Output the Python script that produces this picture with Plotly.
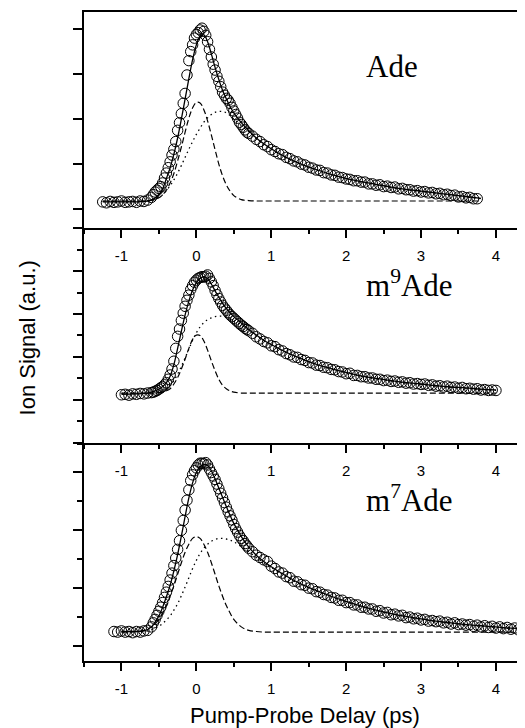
import plotly.graph_objects as go

# ---------------- delay grids (ps) ----------------
baseline_delays = [-1.25, -1.2, -1.15, -1.1, -1.05, -1.0, -0.95, -0.9, -0.85, -0.8, -0.75, -0.7, -0.65]
rise_delays = [-0.6, -0.575, -0.55, -0.525, -0.5, -0.475, -0.45, -0.425, -0.4, -0.375, -0.35, -0.325, -0.3,
               -0.275, -0.25, -0.225, -0.2, -0.175, -0.15, -0.125, -0.1, -0.075, -0.05, -0.025, 0.0,
               0.025, 0.05, 0.075, 0.1, 0.125, 0.15, 0.175, 0.2, 0.225, 0.25, 0.275, 0.3,
               0.325, 0.35, 0.375, 0.4, 0.425, 0.45, 0.475, 0.5, 0.525, 0.55, 0.575, 0.6,
               0.625, 0.65, 0.675, 0.7]
tail_delays = [0.75, 0.8, 0.85, 0.9, 0.95, 1.0, 1.05, 1.1, 1.15, 1.2,
               1.25, 1.3, 1.35, 1.4, 1.45, 1.5, 1.55, 1.6, 1.65, 1.7,
               1.75, 1.8, 1.85, 1.9, 1.95, 2.0, 2.05, 2.1, 2.15, 2.2,
               2.25, 2.3, 2.35, 2.4, 2.45, 2.5, 2.55, 2.6, 2.65, 2.7,
               2.75, 2.8, 2.85, 2.9, 2.95, 3.0, 3.05, 3.1, 3.15, 3.2,
               3.25, 3.3, 3.35, 3.4, 3.45, 3.5, 3.55, 3.6, 3.65, 3.7,
               3.75, 3.8, 3.85, 3.9, 3.95, 4.0, 4.05, 4.1, 4.15, 4.2,
               4.25, 4.3, 4.35, 4.4, 4.45, 4.5]
fit_delays = [-1.25, -1.0, -0.8, -0.7, -0.6, -0.5, -0.45, -0.4, -0.35, -0.3, -0.25, -0.2, -0.15, -0.1, -0.05,
              0.0, 0.05, 0.1, 0.15, 0.2, 0.25, 0.3, 0.35, 0.4, 0.45, 0.5, 0.6, 0.7, 0.8, 0.9, 1.0,
              1.2, 1.4, 1.6, 1.8, 2.0, 2.2, 2.4, 2.6, 2.8, 3.0, 3.2, 3.4, 3.6, 3.8, 4.0, 4.2, 4.4, 4.5]

# ---------------- Ade ----------------
ade_delay = baseline_delays + rise_delays + tail_delays[:61]
ade_signal = ([0.16, 0.14, 0.17, 0.15, 0.16, 0.18, 0.15, 0.16, 0.17, 0.15, 0.18, 0.17, 0.2]
              + [0.26, 0.32, 0.38, 0.42, 0.46, 0.5, 0.58, 0.69, 0.8, 0.92, 1.05, 1.2, 1.33,
                 1.5, 1.75, 1.92, 2.12, 2.35, 2.57, 2.98, 3.3, 3.5, 3.65, 3.8, 3.88,
                 3.92, 3.98, 4.02, 3.95, 3.86, 3.72, 3.55, 3.38, 3.22, 3.09, 2.95, 2.84,
                 2.72, 2.6, 2.53, 2.46, 2.42, 2.35, 2.26, 2.18, 2.1, 2.02, 1.93, 1.88,
                 1.82, 1.76, 1.71, 1.68]
              + [1.62, 1.55, 1.5, 1.43, 1.39, 1.32, 1.28, 1.23, 1.21, 1.15,
                 1.12, 1.07, 1.05, 1.0, 0.98, 0.93, 0.91, 0.87, 0.86, 0.81,
                 0.8, 0.76, 0.75, 0.71, 0.7, 0.67, 0.66, 0.63, 0.63, 0.6,
                 0.6, 0.56, 0.56, 0.53, 0.54, 0.5, 0.51, 0.48, 0.49, 0.45,
                 0.46, 0.43, 0.43, 0.4, 0.41, 0.38, 0.39, 0.36, 0.37, 0.34,
                 0.35, 0.32, 0.33, 0.3, 0.31, 0.27, 0.28, 0.25, 0.26, 0.23,
                 0.23])
ade_fit_delay = fit_delays[:45]
ade_fit = [0.16, 0.16, 0.16, 0.17, 0.2,
           0.32, 0.45, 0.68, 0.92, 1.22, 1.58, 2.0, 2.45, 2.9, 3.32,
           3.65, 3.84, 3.87, 3.72, 3.45, 3.15, 2.88, 2.64, 2.45, 2.28,
           2.14, 1.92, 1.74, 1.58, 1.45, 1.34, 1.15, 1.0, 0.88, 0.77,
           0.68, 0.61, 0.55, 0.49, 0.44, 0.4, 0.36, 0.32, 0.28, 0.24]
ade_fast = [0.18, 0.18, 0.18, 0.18, 0.2,
            0.25, 0.32, 0.42, 0.58, 0.79, 1.07, 1.38, 1.71, 2.02, 2.25,
            2.37, 2.36, 2.21, 1.96, 1.65, 1.32, 1.0, 0.74, 0.54, 0.4,
            0.3, 0.21, 0.19, 0.18, 0.18, 0.18, 0.18, 0.18, 0.18, 0.18,
            0.18, 0.18, 0.18, 0.18, 0.18, 0.18, 0.18, 0.18, 0.18, 0.18]
ade_slow = [0.17, 0.17, 0.17, 0.17, 0.19,
            0.26, 0.32, 0.41, 0.52, 0.65, 0.8, 0.97, 1.15, 1.33, 1.5,
            1.66, 1.8, 1.93, 2.03, 2.1, 2.15, 2.17, 2.17, 2.14, 2.08,
            2.0, 1.86, 1.72, 1.57, 1.44, 1.33, 1.14, 0.99, 0.87, 0.76,
            0.67, 0.6, 0.54, 0.48, 0.43, 0.39, 0.35, 0.31, 0.27, 0.23]

# ---------------- m9Ade ----------------
m9_delay = baseline_delays[5:] + rise_delays + tail_delays[:66]
m9_signal = ([0.12, 0.13, 0.11, 0.14, 0.13, 0.15, 0.14, 0.16]
             + [0.17, 0.18, 0.2, 0.22, 0.25, 0.28, 0.31, 0.35, 0.4, 0.48, 0.58, 0.72, 0.9,
                1.2, 1.48, 1.65, 1.85, 2.02, 2.18, 2.32, 2.44, 2.57, 2.66, 2.74, 2.79,
                2.83, 2.85, 2.87, 2.86, 2.88, 2.91, 2.83, 2.75, 2.66, 2.55, 2.45, 2.36,
                2.28, 2.2, 2.14, 2.09, 2.03, 1.98, 1.94, 1.9, 1.86, 1.82, 1.78, 1.74,
                1.71, 1.67, 1.64, 1.61]
             + [1.55, 1.47, 1.42, 1.36, 1.33, 1.26, 1.24, 1.17, 1.14, 1.08,
                1.05, 1.0, 0.99, 0.94, 0.92, 0.87, 0.86, 0.81, 0.8, 0.76,
                0.75, 0.71, 0.7, 0.66, 0.65, 0.61, 0.62, 0.57, 0.57, 0.54,
                0.54, 0.51, 0.51, 0.48, 0.48, 0.45, 0.46, 0.43, 0.44, 0.41,
                0.42, 0.39, 0.4, 0.37, 0.38, 0.36, 0.37, 0.34, 0.35, 0.32,
                0.33, 0.3, 0.32, 0.29, 0.3, 0.27, 0.29, 0.26, 0.27, 0.25,
                0.26, 0.23, 0.24, 0.22, 0.23, 0.22])
m9_fit_delay = fit_delays[1:46]
m9_fit = [0.13, 0.14, 0.15, 0.18,
          0.25, 0.31, 0.4, 0.55, 0.82, 1.2, 1.6, 1.98, 2.3, 2.56,
          2.73, 2.83, 2.87, 2.82, 2.7, 2.54, 2.39, 2.25, 2.13, 2.03,
          1.94, 1.79, 1.64, 1.51, 1.39, 1.29, 1.11, 0.96, 0.83, 0.73,
          0.64, 0.56, 0.5, 0.45, 0.4, 0.37, 0.33, 0.3, 0.28, 0.25, 0.23]
m9_fast = [0.16, 0.16, 0.16, 0.16,
           0.17, 0.18, 0.21, 0.26, 0.37, 0.52, 0.72, 0.95, 1.2, 1.41,
           1.51, 1.5, 1.37, 1.16, 0.91, 0.68, 0.48, 0.34, 0.26, 0.21,
           0.18, 0.16, 0.16, 0.16, 0.16, 0.16, 0.16, 0.16, 0.16, 0.16,
           0.16, 0.16, 0.16, 0.16, 0.16, 0.16, 0.16, 0.16, 0.16, 0.16, 0.16]
m9_slow = [0.15, 0.15, 0.15, 0.15,
           0.19, 0.22, 0.26, 0.34, 0.45, 0.6, 0.78, 0.98, 1.18, 1.39,
           1.56, 1.7, 1.8, 1.87, 1.91, 1.94, 1.95, 1.95, 1.93, 1.89,
           1.84, 1.75, 1.62, 1.5, 1.38, 1.28, 1.1, 0.95, 0.82, 0.72,
           0.63, 0.55, 0.49, 0.44, 0.39, 0.36, 0.32, 0.29, 0.27, 0.24, 0.22]

# ---------------- m7Ade ----------------
m7_delay = baseline_delays[3:] + rise_delays + tail_delays
m7_signal = ([0.25, 0.24, 0.26, 0.24, 0.25, 0.23, 0.25, 0.24, 0.26, 0.27]
             + [0.33, 0.4, 0.46, 0.53, 0.6, 0.67, 0.75, 0.84, 0.93, 1.03, 1.14, 1.26, 1.39,
                1.52, 1.67, 1.82, 2.0, 2.17, 2.35, 2.52, 2.7, 2.86, 2.96, 3.03, 3.08,
                3.13, 3.16, 3.16, 3.15, 3.17, 3.13, 3.06, 3.0, 2.94, 2.88, 2.8, 2.72,
                2.64, 2.56, 2.48, 2.4, 2.32, 2.25, 2.18, 2.1, 2.03, 1.97, 1.91, 1.86,
                1.82, 1.77, 1.73, 1.69]
             + [1.63, 1.57, 1.53, 1.49, 1.46, 1.38, 1.34, 1.28, 1.26, 1.2,
                1.18, 1.12, 1.11, 1.06, 1.05, 1.0, 0.99, 0.94, 0.93, 0.89,
                0.88, 0.84, 0.83, 0.79, 0.79, 0.75, 0.75, 0.71, 0.71, 0.67,
                0.67, 0.64, 0.64, 0.6, 0.61, 0.57, 0.58, 0.54, 0.55, 0.52,
                0.53, 0.49, 0.5, 0.47, 0.48, 0.45, 0.46, 0.43, 0.44, 0.42,
                0.43, 0.4, 0.41, 0.38, 0.4, 0.37, 0.38, 0.36, 0.37, 0.34,
                0.36, 0.33, 0.35, 0.32, 0.34, 0.31, 0.33, 0.3, 0.32, 0.29,
                0.31, 0.28, 0.3, 0.28, 0.29, 0.27])
m7_fit_delay = fit_delays[1:]
m7_fit = [0.25, 0.25, 0.26, 0.33,
          0.52, 0.67, 0.85, 1.05, 1.3, 1.58, 1.9, 2.24, 2.56, 2.82,
          3.0, 3.1, 3.14, 3.12, 3.03, 2.89, 2.73, 2.57, 2.41, 2.26,
          2.12, 1.89, 1.71, 1.57, 1.46, 1.37, 1.21, 1.07, 0.96, 0.86,
          0.77, 0.69, 0.62, 0.56, 0.51, 0.47, 0.43, 0.4, 0.37, 0.35, 0.33, 0.31, 0.3, 0.29]
m7_fast = [0.24, 0.25, 0.27, 0.33,
           0.46, 0.57, 0.7, 0.86, 1.04, 1.24, 1.44, 1.62, 1.76, 1.86,
           1.89, 1.86, 1.76, 1.62, 1.44, 1.24, 1.04, 0.86, 0.7, 0.57,
           0.46, 0.33, 0.27, 0.25, 0.24, 0.24, 0.24, 0.24, 0.24, 0.24,
           0.24, 0.24, 0.24, 0.24, 0.24, 0.24, 0.24, 0.24, 0.24, 0.24, 0.24, 0.24, 0.24, 0.24]
m7_slow = [0.25, 0.25, 0.25, 0.28,
           0.34, 0.39, 0.45, 0.52, 0.62, 0.73, 0.87, 1.02, 1.18, 1.34,
           1.48, 1.6, 1.69, 1.76, 1.81, 1.84, 1.86, 1.86, 1.85, 1.83,
           1.8, 1.72, 1.63, 1.53, 1.44, 1.36, 1.2, 1.06, 0.95, 0.85,
           0.76, 0.68, 0.61, 0.55, 0.5, 0.46, 0.42, 0.39, 0.36, 0.34, 0.32, 0.3, 0.29, 0.28]

panel_labels = ["Ade", "m<sup>9</sup>Ade", "m<sup>7</sup>Ade"]
x_tick_vals = [-1, 0, 1, 2, 3, 4]
x_tick_text = ["-1", "0", "1", "2", "3", "4"]
x_tick_text_mid = ["-1", " ", "1", "2", "3", "4"]

panels = [
    (ade_delay, ade_signal, ade_fit_delay, ade_fit, ade_fast, ade_slow),
    (m9_delay, m9_signal, m9_fit_delay, m9_fit, m9_fast, m9_slow),
    (m7_delay, m7_signal, m7_fit_delay, m7_fit, m7_fast, m7_slow),
]
for p in panels:
    assert len(p[0]) == len(p[1]), (len(p[0]), len(p[1]))
    assert len(p[2]) == len(p[3]) == len(p[4]) == len(p[5]), (len(p[2]), len(p[3]), len(p[4]), len(p[5]))

fig = go.Figure()
axis_ids = [("x", "y"), ("x2", "y2"), ("x3", "y3")]
for (xd, ys, xf, yfit, yfast, yslow), (xa, ya) in zip(panels, axis_ids):
    fig.add_trace(go.Scatter(x=xd, y=ys, mode="markers", xaxis=xa, yaxis=ya,
                             marker=dict(symbol="circle-open", size=10.5, color="black",
                                         line=dict(width=1, color="black"))))
    fig.add_trace(go.Scatter(x=xf, y=yslow, mode="lines", xaxis=xa, yaxis=ya, line_shape="spline",
                             line=dict(color="black", width=1.3, dash="1.5px,3.5px")))
    fig.add_trace(go.Scatter(x=xf, y=yfast, mode="lines", xaxis=xa, yaxis=ya, line_shape="spline",
                             line=dict(color="black", width=1.2, dash="6px,3px")))
    fig.add_trace(go.Scatter(x=xf, y=yfit, mode="lines", xaxis=xa, yaxis=ya, line_shape="spline",
                             line=dict(color="black", width=1.3)))

tick_font = dict(family="Liberation Sans, Arial, sans-serif", size=15, color="black")
common_x = dict(range=[-1.5, 4.388], showline=True, linewidth=2, linecolor="black",
                ticks="outside", ticklen=8, tickwidth=1.5, tickcolor="black",
                tickmode="array", tickvals=x_tick_vals,
                minor=dict(tickmode="array", tickvals=[-1.5, -0.5, 0.5, 1.5, 2.5, 3.5],
                           ticks="outside", ticklen=4, tickwidth=1.5, tickcolor="black"),
                showgrid=False, zeroline=False, tickfont=tick_font, ticklabelstandoff=5)
common_y = dict(showline=True, linewidth=2, linecolor="black", ticks="outside", ticklen=9,
                tickwidth=1.5, tickcolor="black", showticklabels=False, showgrid=False,
                zeroline=False, dtick=1, tick0=0)

# The page body has an 8px default margin, so the figure is sized 8px smaller
fig.update_layout(
    width=517, height=720,
    margin=dict(l=76, r=0, t=4, b=67),
    paper_bgcolor="white", plot_bgcolor="white", showlegend=False,
    xaxis=dict(common_x, anchor="y", mirror=True, ticktext=x_tick_text),
    xaxis2=dict(common_x, anchor="y2", ticktext=x_tick_text_mid),
    xaxis3=dict(common_x, anchor="y3", ticktext=x_tick_text),
    yaxis=dict(common_y, domain=[0.6672, 1.0], range=[-0.42, 4.38], anchor="x"),
    yaxis2=dict(common_y, domain=[0.3359, 0.6672], range=[-1.004, 4.004], anchor="x2",
                minor=dict(dtick=0.5, ticks="outside", ticklen=5, tickwidth=1.5, tickcolor="black")),
    yaxis3=dict(common_y, domain=[0.0, 0.3359], range=[-0.26, 3.51], anchor="x3",
                minor=dict(dtick=0.5, ticks="outside", ticklen=5, tickwidth=1.5, tickcolor="black")),
)

label_font = dict(family="Liberation Serif, Times New Roman, serif", size=31, color="black")
label_pos = [("x", "y", 2.24, 3.18), ("x2", "y2", 2.24, 2.71), ("x3", "y3", 2.24, 2.55)]
for text, (xr, yr, lx, ly) in zip(panel_labels, label_pos):
    fig.add_annotation(text=text, x=lx, y=ly, xref=xr, yref=yr, xanchor="left", yanchor="middle",
                       showarrow=False, font=label_font)

title_font = dict(family="Liberation Sans, Arial, sans-serif", size=22, color="black")
fig.add_annotation(text="Ion Signal (a.u.)", xref="paper", yref="paper", x=-0.1259, y=0.4977,
                   xanchor="center", yanchor="middle", textangle=-90, showarrow=False, font=title_font)
fig.add_annotation(text="Pump-Probe Delay (ps)", xref="paper", yref="paper", x=0.501, y=-0.0847,
                   xanchor="center", yanchor="middle", showarrow=False, font=title_font)

fig.write_html("out.html")
